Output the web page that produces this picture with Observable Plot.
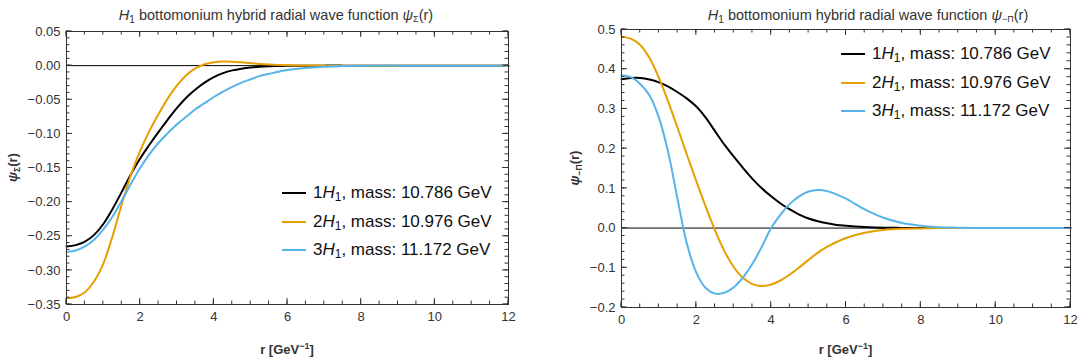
<!DOCTYPE html>
<html><head><meta charset="utf-8">
<script src="https://cdn.jsdelivr.net/npm/d3@7"></script>
<script src="https://cdn.jsdelivr.net/npm/@observablehq/plot@0.6"></script>
<style>
body{margin:0;background:#fff;font-family:"Liberation Sans",Arial,sans-serif;}
#wrap{position:relative;width:1080px;height:360px;overflow:hidden;background:#fff;}
.plot{position:absolute;top:24px;}
.title{position:absolute;top:0;height:31px;line-height:31px;font-size:14.5px;color:#333;white-space:nowrap;transform:translateX(-50%);}
.row{position:absolute;white-space:nowrap;height:20px;line-height:20px;font-size:17px;color:#111;}
.sw{position:absolute;top:9px;height:2px;}
sub{font-size:70%;vertical-align:-0.25em;line-height:0;}
</style></head>
<body><div id="wrap"></div>
<script>
// ---------- data ----------
const seriesNames = ["1H1", "2H1", "3H1"];
const seriesMasses = ["10.786", "10.976", "11.172"];
const seriesColors = ["#000000", "#E69F00", "#56B4E9"];

const r = [0,0.25,0.5,0.75,1,1.25,1.5,1.75,2,2.25,2.5,2.75,3,3.25,3.5,3.75,4,4.25,4.5,4.75,5,5.25,5.5,5.75,6,6.5,7,7.5,8,8.5,9,10,11,12];

// psi_Sigma(r)
const sigma1 = [-0.265,-0.263,-0.258,-0.248,-0.232,-0.210,-0.185,-0.159,-0.136,-0.116,-0.097,-0.079,-0.062,-0.047,-0.035,-0.025,-0.017,-0.011,-0.007,-0.0045,-0.0028,-0.0017,-0.001,-0.0006,-0.0003,-0.0001,0,0,0,0,0,0,0,0];
const sigma2 = [-0.341,-0.339,-0.332,-0.316,-0.290,-0.250,-0.203,-0.160,-0.125,-0.096,-0.071,-0.048,-0.029,-0.014,-0.004,0.002,0.005,0.006,0.0058,0.0048,0.0036,0.0025,0.0016,0.001,0.0006,0.0002,0,0,0,0,0,0,0,0];
const sigma3 = [-0.273,-0.271,-0.265,-0.255,-0.240,-0.221,-0.198,-0.173,-0.150,-0.130,-0.113,-0.099,-0.086,-0.075,-0.064,-0.055,-0.046,-0.038,-0.031,-0.025,-0.020,-0.015,-0.012,-0.009,-0.0065,-0.0035,-0.0015,-0.0007,-0.0003,0,0,0,0,0];

// psi_-Pi(r)
const pi1 = [0.375,0.378,0.378,0.374,0.367,0.356,0.342,0.326,0.306,0.278,0.244,0.210,0.180,0.151,0.124,0.100,0.080,0.062,0.047,0.034,0.024,0.017,0.012,0.008,0.006,0.003,0.001,0.0004,0,0,0,0,0,0];
const pi2 = [0.482,0.477,0.461,0.428,0.378,0.318,0.252,0.184,0.118,0.054,-0.006,-0.058,-0.098,-0.126,-0.141,-0.146,-0.142,-0.132,-0.117,-0.099,-0.080,-0.062,-0.047,-0.035,-0.025,-0.012,-0.005,-0.002,-0.001,0,0,0,0,0];
const pi3 = [0.385,0.380,0.363,0.334,0.278,0.190,0.072,-0.040,-0.112,-0.151,-0.165,-0.163,-0.149,-0.124,-0.090,-0.047,0.000,0.034,0.061,0.080,0.092,0.096,0.093,0.085,0.074,0.047,0.026,0.013,0.006,0.002,0.001,0,0,0];

// ticks
const xMajor = [0,2,4,6,8,10,12];
const ySigmaMajor = [-0.35,-0.30,-0.25,-0.20,-0.15,-0.10,-0.05,0,0.05];
const yPiMajor = [-0.2,-0.1,0,0.1,0.2,0.3,0.4,0.5];

function rows(vals) {
  const out = [];
  vals.forEach((v, k) => v.forEach((y, i) => out.push({r: r[i], v: y, s: seriesNames[k]})));
  return out;
}
const wrap = document.getElementById("wrap");
const FONT = "Liberation Sans, Arial, sans-serif";

function makePanel({left, data, yDomain, yMajor, yMinorStep, yFmt, mt, mb, ml, mr, title, ylab, ylabX, legendTop, legendLeft}) {
  const W = 540, H = 336;
  const iH = H - mt - mb, iW = W - ml - mr;
  const xMinor = d3.range(0, 12.0001, 0.5);
  const yMinor = d3.range(Math.round(yDomain[0]/yMinorStep), Math.round(yDomain[1]/yMinorStep) + 1).map(k => k * yMinorStep);
  const Lmaj = 6, Lmin = 3.5;
  const chart = Plot.plot({
    width: W, height: H, marginTop: mt, marginBottom: mb, marginLeft: ml, marginRight: mr,
    x: {domain: [0, 12]},
    y: {domain: yDomain},
    color: {domain: seriesNames, range: seriesColors},
    style: {fontFamily: FONT, fontSize: "13px", color: "#333", background: "white", overflow: "visible"},
    marks: [
      Plot.ruleY([0], {stroke: "#000", strokeWidth: 1}),
      Plot.line(data, {x: "r", y: "v", z: "s", stroke: "s", strokeWidth: 2, curve: "catmull-rom"}),
      Plot.frame({stroke: "#333", strokeWidth: 1}),
      Plot.axisX(xMajor, {tickSize: 0, tickPadding: 7, tickFormat: d => String(d), label: null}),
      Plot.axisY(yMajor, {tickSize: 0, tickPadding: 6, tickFormat: yFmt, label: null})
    ]
  });
  chart.classList.add("plot");
  chart.style.left = left + "px";
  wrap.appendChild(chart);

  const svg = d3.select(chart);
  const xs = chart.scale("x"), ys = chart.scale("y");
  const y0 = mt, y1 = H - mb, x0 = ml, x1 = W - mr;
  // inward ticks on all four sides, positioned through Plot's scales
  let d = "";
  const addX = (vals, L) => vals.forEach(v => {
    const x = xs.apply(v);
    d += `M${x},${y1}V${y1 - L}M${x},${y0}V${y0 + L}`;
  });
  const addY = (vals, L) => vals.forEach(v => {
    const y = ys.apply(v);
    d += `M${x0},${y}H${x0 + L}M${x1},${y}H${x1 - L}`;
  });
  addX(xMinor, Lmin); addX(xMajor, Lmaj);
  addY(yMinor, Lmin); addY(yMajor, Lmaj);
  svg.append("path").attr("d", d).attr("fill", "none").attr("stroke", "#333").attr("stroke-width", 1);

  // y label
  const cy = mt + iH / 2;
  const t = svg.append("text")
    .attr("transform", `translate(${ylabX},${cy}) rotate(-90)`)
    .attr("text-anchor", "middle").attr("font-weight", "bold").attr("font-size", 13)
    .attr("fill", "#333").attr("font-family", FONT);
  t.append("tspan").attr("font-style", "italic").text("ψ");
  t.append("tspan").attr("font-size", 8.5).attr("dy", 3).text(ylab);
  t.append("tspan").attr("dy", -3).text("(r)");
  // x label
  const xl = svg.append("text")
    .attr("x", ml + iW / 2).attr("y", 330)
    .attr("text-anchor", "middle").attr("font-weight", "bold").attr("font-size", 13)
    .attr("fill", "#333").attr("font-family", FONT);
  xl.append("tspan").text("r [GeV");
  xl.append("tspan").attr("font-size", 9).attr("dy", -5).text("−1");
  xl.append("tspan").attr("dy", 5).text("]");

  // title
  const td = document.createElement("div");
  td.className = "title";
  td.style.left = title.cx + "px";
  td.innerHTML = `<i>H</i><sub>1</sub> bottomonium hybrid radial wave function <i>ψ</i><sub style="font-size:62%">${title.sub}</sub>(r)`;
  wrap.appendChild(td);

  // legend
  seriesNames.forEach((nm, k) => {
    const row = document.createElement("div");
    row.className = "row";
    row.style.left = legendLeft + "px";
    row.style.top = (legendTop[k] - 10) + "px";
    row.innerHTML = `<span class="sw" style="left:0;width:24px;background:${seriesColors[k]}"></span>` +
      `<span style="position:absolute;left:31px">${k + 1}<i>H</i><sub>1</sub>, mass: ${seriesMasses[k]} GeV</span>`;
    wrap.appendChild(row);
  });
}

makePanel({
  left: 0, data: rows([sigma1, sigma2, sigma3]), yDomain: [-0.35, 0.05], yMajor: ySigmaMajor, yMinorStep: 0.01,
  yFmt: d3.format(".2f"), mt: 7, mb: 56, ml: 66, mr: 32,
  title: {cx: 276, sub: "Σ"}, ylab: "Σ", ylabX: 17, legendTop: [193, 222, 250], legendLeft: 282
});
makePanel({
  left: 540, data: rows([pi1, pi2, pi3]), yDomain: [-0.2, 0.5], yMajor: yPiMajor, yMinorStep: 0.02,
  yFmt: d3.format(".1f"), mt: 5, mb: 53, ml: 81, mr: 10,
  title: {cx: 868, sub: "−Π"}, ylab: "−Π", ylabX: 39, legendTop: [54, 83, 111], legendLeft: 841
});
</script></body></html>
